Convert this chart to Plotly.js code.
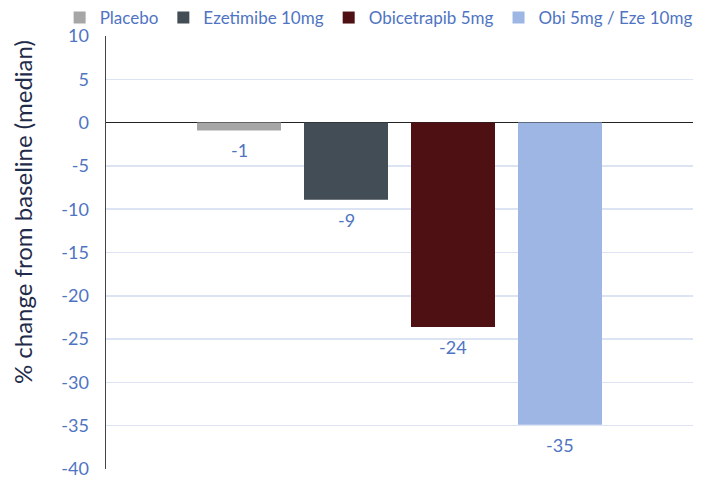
<!DOCTYPE html>
<html>
<head>
<meta charset="utf-8">
<script src="https://cdn.plot.ly/plotly-3.0.1.min.js"></script>
<style>html,body{margin:0;padding:0;background:#fff;}#chart{width:708px;height:484px;}</style>
</head>
<body>
<div id="chart"></div>
<script>
const seriesNames = ['Placebo', 'Ezetimibe 10mg', 'Obicetrapib 5mg', 'Obi 5mg / Eze 10mg'];
const medianChange = [-0.9, -8.9, -23.6, -34.9];
const labelText = ['-1', '-9', '-24', '-35'];
const seriesColors = ['#A6A6A6', '#424D55', '#4E1012', '#9DB6E4'];
const yTicks = [10, 5, 0, -5, -10, -15, -20, -25, -30, -35, -40];
const yTitle = '% change from baseline (median)';

const blue = '#4F74C2';
const traces = seriesNames.map((name, i) => ({
  type: 'bar',
  name: name,
  x: [i],
  y: [medianChange[i]],
  width: 0.785,
  marker: {color: seriesColors[i], line: {width: 0}},
  hoverinfo: 'skip'
}));

const annotations = seriesNames.map((name, i) => ({
  x: i, y: medianChange[i], xref: 'x', yref: 'y',
  text: labelText[i], showarrow: false,
  yanchor: 'middle', yshift: -20,
  font: {family: 'Lato, sans-serif', size: 18, color: blue}
}));
annotations.push({
  xref: 'paper', yref: 'paper', x: -0.143, y: 0.5935,
  xanchor: 'center', yanchor: 'middle', textangle: -90,
  text: yTitle, showarrow: false,
  font: {family: 'Lato, sans-serif', size: 24, color: '#1F2B4A'}
});

const layout = {
  width: 708, height: 484,
  margin: {l: 106, r: 15, t: 36, b: 15, autoexpand: false},
  paper_bgcolor: '#fff', plot_bgcolor: '#fff',
  barmode: 'overlay',
  font: {family: 'Lato, sans-serif', color: blue},
  showlegend: true,
  legend: {
    orientation: 'h', x: -0.079, xanchor: 'left', y: 1.0416, yanchor: 'middle',
    font: {family: 'Lato, sans-serif', size: 17, color: blue},
    itemwidth: 30, traceorder: 'normal', bgcolor: 'rgba(0,0,0,0)'
  },
  xaxis: {
    range: [-1.243, 4.243], showticklabels: false, showgrid: false,
    zeroline: false, showline: false, ticks: '', fixedrange: true
  },
  yaxis: {
    range: [-40, 10], tickvals: yTicks, ticktext: yTicks.map(String),
    showgrid: true, gridcolor: '#DCE4F3', gridwidth: 1.5,
    zeroline: true, zerolinecolor: '#222', zerolinewidth: 1.5,
    showline: true, linecolor: '#444', linewidth: 1.5,
    ticks: '', ticklen: 0, ticklabelstandoff: 12,
    tickfont: {family: 'Lato, sans-serif', size: 18, color: blue}
  },
  annotations: annotations
};

Plotly.newPlot('chart', traces, layout, {displayModeBar: false, staticPlot: true});
</script>
</body>
</html>
